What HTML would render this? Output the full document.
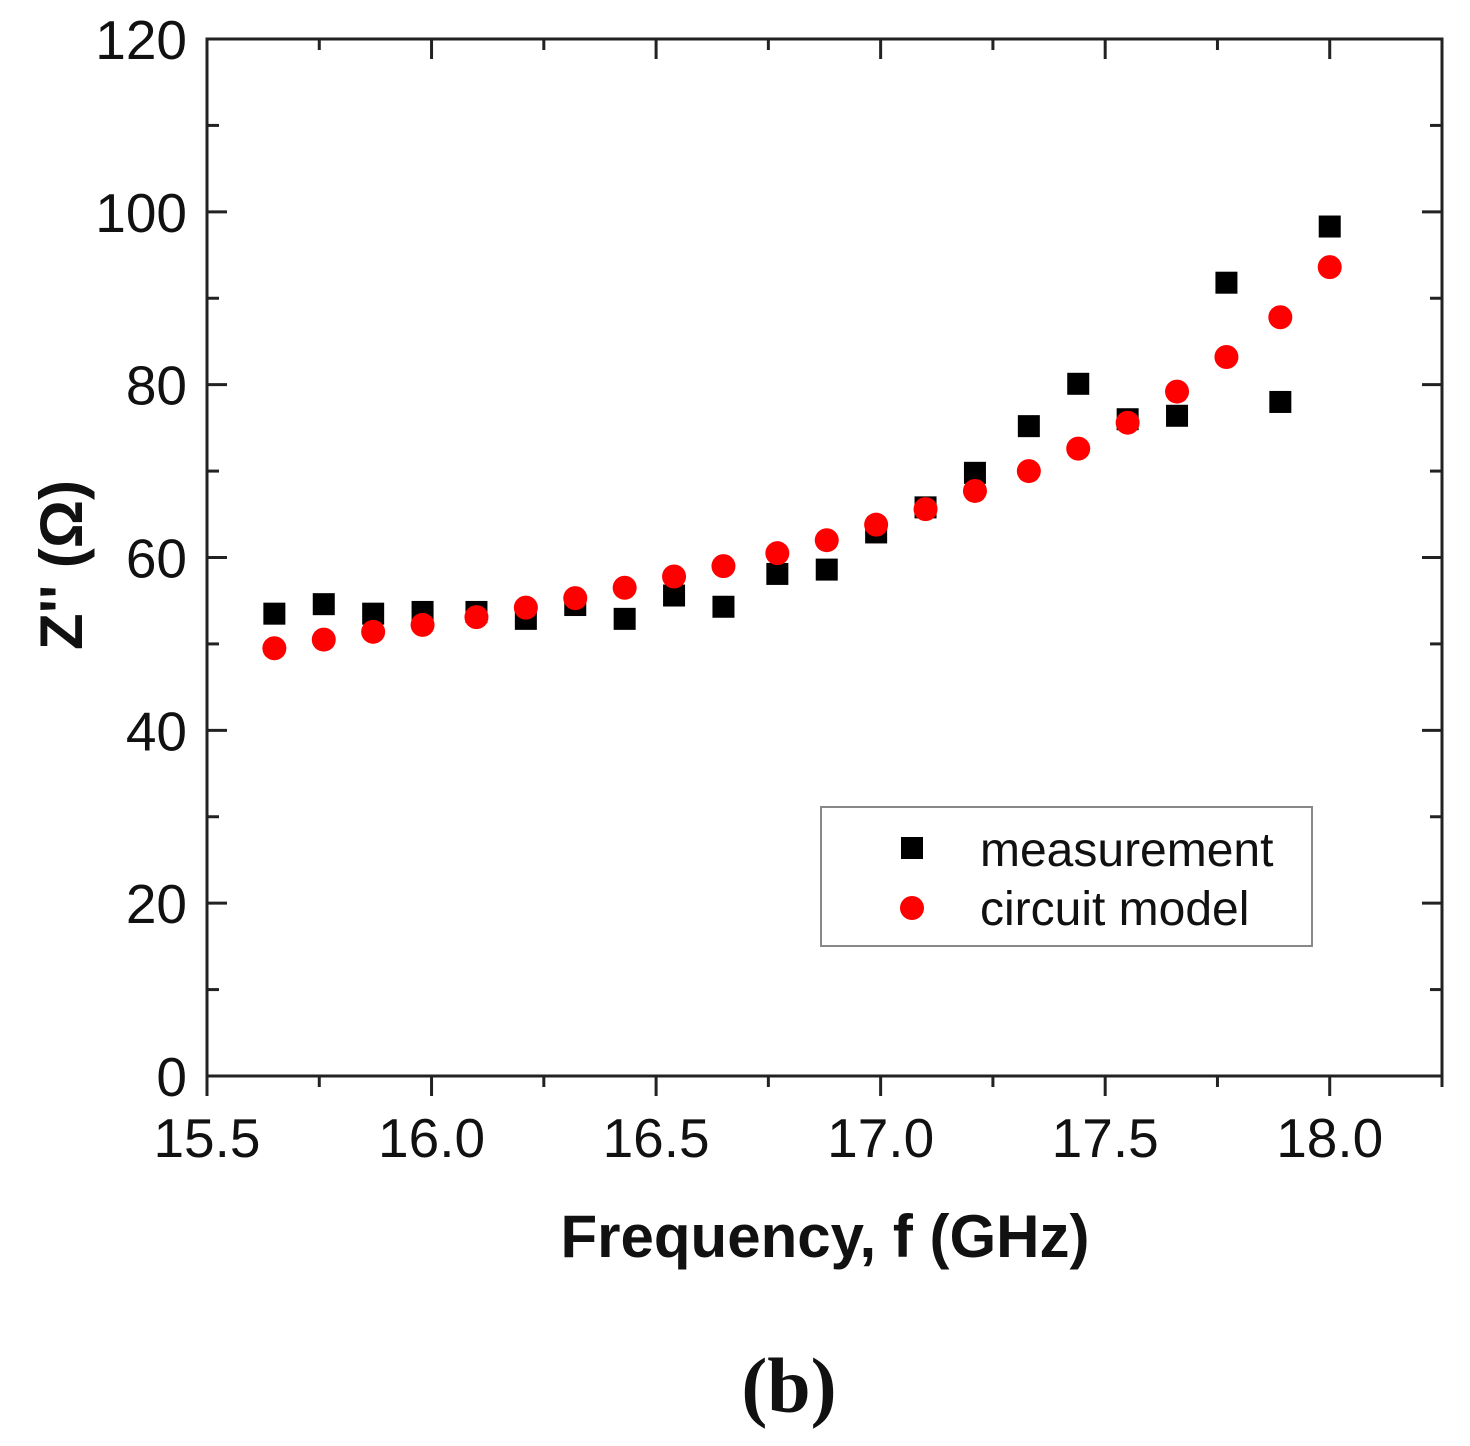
<!DOCTYPE html>
<html><head><meta charset="utf-8"><style>
body{margin:0;background:#fff;}
svg{display:block;font-family:"Liberation Sans",sans-serif;}
</style></head><body>
<svg id="chart" width="1470" height="1446" viewBox="0 0 1470 1446" xmlns="http://www.w3.org/2000/svg">
<g id="axes"></g>
<g id="marks"></g>
<text x="825" y="1257" font-size="60" font-weight="bold" text-anchor="middle" fill="#111">Frequency, f (GHz)</text>
<text transform="translate(82,565) rotate(-90)" font-size="60" font-weight="bold" text-anchor="middle" fill="#111">Z'' (Ω)</text>
<text x="789" y="1412" font-size="78" font-weight="bold" text-anchor="middle" font-family="Liberation Serif, serif" fill="#111">(b)</text>
<g>
<rect x="821" y="807" width="491" height="139" fill="#fff" stroke="#888" stroke-width="2"/>
<rect x="901" y="837" width="22" height="22" fill="#000"/>
<text x="980" y="866" font-size="48" fill="#111">measurement</text>
<circle cx="912" cy="908" r="12" fill="#f00"/>
<text x="980" y="925" font-size="48" fill="#111">circuit model</text>
</g>
</svg>
<script>
const freqs=[15.65,15.76,15.87,15.98,16.10,16.21,16.32,16.43,16.54,16.65,16.77,16.88,16.99,17.10,17.21,17.33,17.44,17.55,17.66,17.77,17.89,18.0];
const measurement=[53.5,54.6,53.5,53.7,53.7,52.9,54.5,52.9,55.6,54.3,58.1,58.6,62.9,65.8,69.8,75.2,80.1,76.0,76.4,91.8,78.0,98.3];
const circuitModel=[49.5,50.5,51.4,52.2,53.1,54.2,55.3,56.5,57.8,59.0,60.5,62.0,63.8,65.6,67.7,70.0,72.6,75.6,79.2,83.2,87.8,93.6];
const xTicks=["15.5","16.0","16.5","17.0","17.5","18.0"];
const yTicks=["0","20","40","60","80","100","120"];
const L=207,R=1442,T=39,B=1076;
const xMin=15.5,xMax=18.25,yMin=0,yMax=120;
const X=v=>L+(v-xMin)/(xMax-xMin)*(R-L);
const Y=v=>B-(v-yMin)/(yMax-yMin)*(B-T);
const NS="http://www.w3.org/2000/svg";
function mk(tag,attrs,parent){const e=document.createElementNS(NS,tag);for(const k in attrs)e.setAttribute(k,attrs[k]);parent.appendChild(e);return e;}
const ax=document.getElementById('axes'),mg=document.getElementById('marks');
const frame=mk('rect',{x:L,y:T,width:R-L,height:B-T,fill:'none',stroke:'#222','stroke-width':3},ax);


for(let v=15.5;v<=18.25+1e-9;v+=0.25){
  const major=Math.abs((v*2)-Math.round(v*2))<1e-6;
  const x=X(v),len=major?20:11;
  const t=mk('line',{x1:x,y1:B,x2:x,y2:B+len,stroke:'#222','stroke-width':3},ax);
  
  
  const t2=mk('line',{x1:x,y1:T,x2:x,y2:T+len,stroke:'#222','stroke-width':3},ax);
  
  
}
xTicks.forEach(s=>{
  const tx=mk('text',{x:X(parseFloat(s)),y:1157,'font-size':55,'text-anchor':'middle',fill:'#111'},ax);tx.textContent=s;
  
  
});
for(let v=0;v<=120;v+=10){
  const major=v%20===0,len=major?20:12,y=Y(v);
  const t=mk('line',{x1:L,y1:y,x2:L+len,y2:y,stroke:'#222','stroke-width':3},ax);
  
  
  const t2=mk('line',{x1:R,y1:y,x2:R-len,y2:y,stroke:'#222','stroke-width':3},ax);
  
  
}
yTicks.forEach(s=>{
  const tx=mk('text',{x:187,y:Y(parseFloat(s))+20,'font-size':55,'text-anchor':'end',fill:'#111'},ax);tx.textContent=s;
  
  
});
freqs.forEach((f,i)=>{
  const r=mk('rect',{x:X(f)-11,y:Y(measurement[i])-11,width:22,height:22,fill:'#000'},mg);
  
  
});
freqs.forEach((f,i)=>{
  const c=mk('circle',{cx:X(f),cy:Y(circuitModel[i]),r:12,fill:'#f00'},mg);
  
  
});
</script>
</body></html>
